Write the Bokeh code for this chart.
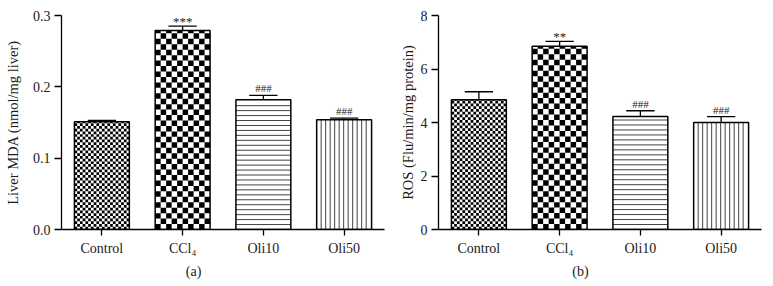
import numpy as np
from bokeh.plotting import figure
from bokeh.layouts import row
from bokeh.models import FactorRange, Range1d, FixedTicker, Label, Title
from bokeh.embed import file_html
from bokeh.resources import INLINE

# ---- data ----
categories = ["Control", "CCl\u2084", "Oli10", "Oli50"]
patterns = ["fine_checker", "coarse_checker", "hlines", "vlines"]

mda_values = [0.151, 0.279, 0.182, 0.154]
mda_errors = [0.002, 0.006, 0.006, 0.002]
mda_marks = ["", "***", "###", "###"]
mda_ticks = [0.0, 0.1, 0.2, 0.3]
mda_tick_labels = ["0.0", "0.1", "0.2", "0.3"]

ros_values = [4.85, 6.85, 4.22, 4.00]
ros_errors = [0.30, 0.18, 0.22, 0.22]
ros_marks = ["", "**", "###", "###"]
ros_ticks = [0, 2, 4, 6, 8]
ros_tick_labels = ["0", "2", "4", "6", "8"]

FONT = "Liberation Serif"
TXT = "#1a1a1a"
BAR_W = 0.68


def panel(values, errors, marks, ticks, tick_labels, ylabel, letter,
          width, border_left, border_top, frame_h, ymax, label_standoff):
    frame_w = 323
    p = figure(x_range=FactorRange(*categories, range_padding=0),
               y_range=Range1d(0, ymax),
               width=width, height=286,
               min_border_left=border_left,
               min_border_right=width - border_left - frame_w,
               min_border_top=border_top,
               min_border_bottom=286 - border_top - frame_h,
               output_backend="svg", toolbar_location=None,
               background_fill_color="white", border_fill_color="white")
    p.outline_line_color = None
    p.xgrid.grid_line_color = None
    p.ygrid.grid_line_color = None

    px_x = 1.0 / (frame_w / len(categories))   # data units per pixel (x)
    px_y = ymax / frame_h                       # data units per pixel (y)
    centers = np.arange(len(categories)) + 0.5

    # white bars
    p.vbar(x=categories, top=values, width=BAR_W, fill_color="white",
           line_color=None)

    for c, v, pat in zip(centers, values, patterns):
        left = c - BAR_W / 2
        right = c + BAR_W / 2
        if pat.endswith("checker"):
            ncols = 20 if pat == "fine_checker" else 10
            cw = BAR_W / ncols
            ch = (55.0 / ncols) * px_y
            nrows = int(np.ceil(v / ch))
            L, R, B, T = [], [], [], []
            for i in range(nrows):
                for j in range(ncols):
                    if (i + j) % 2 == 0:
                        L.append(left + j * cw)
                        R.append(left + (j + 1) * cw)
                        B.append(i * ch)
                        T.append(min((i + 1) * ch, v))
            p.quad(left=L, right=R, bottom=B, top=T, fill_color="black",
                   line_color=None)
        elif pat == "hlines":
            step = 5.0 * px_y
            ys = np.arange(step, v - step * 0.3, step)
            p.segment(x0=[left] * len(ys), y0=ys, x1=[right] * len(ys), y1=ys,
                      line_color="#444444", line_width=1)
        elif pat == "vlines":
            step = 4.5 * px_x
            xs = np.arange(left + step, right - step * 0.3, step)
            p.segment(x0=xs, y0=[0] * len(xs), x1=xs, y1=[v] * len(xs),
                      line_color="#444444", line_width=1)

    # outlines
    p.vbar(x=categories, top=values, width=BAR_W, fill_color=None,
           line_color="black", line_width=1.5)

    # error bars (upper only)
    tops = [v + e for v, e in zip(values, errors)]
    p.segment(x0=centers, y0=values, x1=centers, y1=tops,
              line_color="black", line_width=1.3)
    cap = 0.175
    p.segment(x0=centers - cap, y0=tops, x1=centers + cap, y1=tops,
              line_color="black", line_width=1.3)

    for c, t, m in zip(centers, tops, marks):
        if not m:
            continue
        star = m.startswith("*")
        p.add_layout(Label(x=c, y=t, text=m, text_align="center",
                           text_baseline="bottom",
                           y_offset=(-3 if star else 1),
                           text_font=FONT,
                           text_font_size=("13px" if star else "11px"),
                           text_color=TXT))

    # figure letter below, centred on the whole panel
    letter_w = 15.5
    p.add_layout(Title(text=letter, align="left",
                       offset=width / 2.0 - border_left - letter_w / 2.0,
                       text_font=FONT, text_font_size="14px",
                       text_font_style="normal", text_color=TXT,
                       standoff=7), "below")

    yax = p.yaxis[0]
    yax.ticker = FixedTicker(ticks=ticks)
    yax.major_label_overrides = {t: l for t, l in zip(ticks, tick_labels)}
    yax.axis_label = ylabel
    yax.axis_label_text_font = FONT
    yax.axis_label_text_font_size = "14.5px"
    yax.axis_label_text_font_style = "normal"
    yax.axis_label_text_color = TXT
    yax.axis_label_standoff = label_standoff
    yax.major_label_text_font = FONT
    yax.major_label_text_font_size = "14px"
    yax.major_label_text_color = TXT
    yax.major_label_standoff = 4
    yax.major_tick_out = 7
    yax.major_tick_in = 0
    yax.minor_tick_line_color = None
    yax.axis_line_width = 1.3
    yax.major_tick_line_width = 1.3

    xax = p.xaxis[0]
    xax.major_label_text_font = FONT
    xax.major_label_text_font_size = "14px"
    xax.major_label_text_color = TXT
    xax.major_label_standoff = 5
    xax.major_tick_out = 6
    xax.major_tick_in = 0
    xax.axis_line_width = 1.3
    xax.major_tick_line_width = 1.3
    return p


p1 = panel(mda_values, mda_errors, mda_marks, mda_ticks, mda_tick_labels,
           "Liver MDA (nmol/mg liver)", "(a)",
           width=386, border_left=61, border_top=13, frame_h=216, ymax=0.3,
           label_standoff=9)
p2 = panel(ros_values, ros_errors, ros_marks, ros_ticks, ros_tick_labels,
           "ROS (Flu/min/mg protein)", "(b)",
           width=387, border_left=52, border_top=15, frame_h=215, ymax=8,
           label_standoff=2)

layout = row(p1, p2)
open("out.html", "w").write(file_html(layout, INLINE))
